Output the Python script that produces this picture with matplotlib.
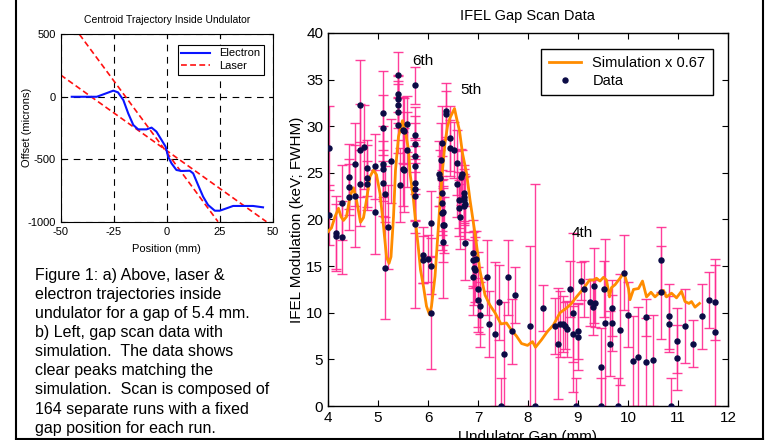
import matplotlib
matplotlib.use("Agg")
import matplotlib.pyplot as plt
from matplotlib.lines import Line2D

plt.rcParams['font.family'] = ['Liberation Sans', 'DejaVu Sans']
plt.rcParams['axes.unicode_minus'] = False

# ---------------- data: gap scan ----------------
gap_x = [4.02, 4.02, 4.15, 4.15, 4.27, 4.27, 4.41, 4.41, 4.41, 4.54, 4.54, 4.63, 4.63, 4.63,
         4.71, 4.78, 4.78, 4.78, 4.93, 4.93, 5.09, 5.09, 5.09, 5.09, 5.09, 5.14, 5.14, 5.19,
         5.26, 5.39, 5.39, 5.39, 5.39, 5.39, 5.39, 5.44, 5.49, 5.49, 5.52, 5.52, 5.57, 5.57,
         5.73, 5.73, 5.73, 5.73, 5.73, 5.73, 5.73, 5.73, 5.73, 5.89, 5.89, 6.00, 6.05, 6.05,
         6.05, 6.27, 6.25, 6.22, 6.24, 6.27, 6.27, 6.27, 6.29, 6.29, 6.30, 6.31, 6.35, 6.36,
         6.44, 6.44, 6.51, 6.57, 6.57, 6.61, 6.62, 6.63, 6.66, 6.68, 6.72, 6.72, 6.72, 6.73,
         6.72, 6.74, 6.89, 6.90, 6.91, 6.89, 6.93, 6.99, 7.00, 6.95, 7.04, 7.04, 7.17, 7.21,
         7.33, 7.42, 7.46, 7.51, 7.59, 7.67, 7.73, 8.03, 8.14, 8.29, 8.54, 8.59, 8.64, 8.70,
         8.74, 8.78, 8.83, 8.89, 8.89, 8.99, 8.99, 8.96, 9.05, 9.11, 9.23, 9.31, 9.30, 9.33,
         9.46, 9.46, 9.51, 9.54, 9.63, 9.67, 9.67, 9.79, 9.83, 9.92, 9.99, 10.09, 10.19, 10.35,
         10.35, 10.49, 10.66, 10.66, 10.81, 10.81, 10.86, 10.97, 10.97, 11.13, 11.29, 11.47,
         11.61, 11.74, 11.74]
gap_y = [27.7, 20.5, 18.5, 18.2, 21.8, 18.1, 24.6, 23.5, 22.4, 25.9, 22.5, 32.3, 27.4, 23.8,
         27.8, 25.5, 24.5, 23.8, 25.7, 20.8, 31.4, 29.8, 26.0, 25.4, 23.9, 22.7, 14.8, 19.2,
         26.3, 35.5, 33.5, 32.9, 32.3, 31.5, 30.1, 23.7, 29.6, 25.4, 29.5, 25.3, 30.2, 27.5,
         34.4, 29.1, 28.1, 26.8, 25.7, 23.9, 23.3, 22.5, 19.5, 16.2, 15.7, 15.8, 19.6, 15.0,
         10.0, 28.2, 26.4, 24.9, 24.5, 22.8, 21.8, 20.7, 19.4, 17.6, 20.8, 19.4, 31.6, 31.3,
         28.7, 27.7, 27.5, 26.1, 23.8, 22.1, 21.2, 20.3, 24.6, 24.9, 22.8, 22.4, 22.1, 21.7,
         21.4, 17.5, 16.4, 15.7, 14.8, 13.8, 14.6, 12.5, 11.4, 15.8, 10.7, 9.8, 13.8, 8.8,
         7.7, 11.1, 0.0, 5.6, 13.8, 8.0, 11.9, 8.6, 0.0, 10.5, 8.6, 6.7, 8.8, 8.8,
         8.6, 8.3, 12.5, 10.0, 7.7, 8.0, 7.4, 0.0, 13.4, 12.5, 11.1, 12.9, 10.6, 11.0,
         4.2, 0.0, 12.5, 8.9, 6.7, 10.5, 8.9, 0.0, 8.2, 14.3, 9.8, 4.8, 5.3, 4.7,
         9.5, 4.9, 15.7, 12.2, 9.6, 8.8, 0.0, 7.0, 5.2, 8.6, 6.7, 9.6,
         11.4, 11.1, 7.9]
gap_err = [4.5, 3.2, 4.0, 3.5, 4.0, 3.9, 3.5, 3.0, 3.5, 4.5, 5.5, 4.8, 5.0, 4.5,
           4.5, 3.0, 3.5, 2.5, 3.5, 4.5, 4.5, 3.5, 4.0, 3.0, 3.5, 3.0, 5.5, 4.5,
           4.5, 2.5, 2.0, 2.5, 2.5, 3.0, 3.0, 4.0, 3.5, 4.0, 3.5, 4.5, 3.0, 4.0,
           2.0, 3.0, 3.0, 3.5, 3.0, 4.0, 3.5, 4.0, 9.0, 3.0, 2.5, 2.5, 3.5, 3.0,
           6.0, 4.0, 4.0, 3.5, 3.0, 4.0, 3.5, 4.0, 4.0, 6.0, 3.5, 3.0, 3.0, 2.5,
           3.5, 3.0, 3.0, 3.5, 3.5, 3.0, 3.0, 3.5, 3.0, 2.5, 3.0, 3.0, 2.5, 3.0,
           3.5, 4.0, 3.5, 3.0, 4.0, 4.0, 3.5, 4.0, 3.5, 3.0, 3.0, 3.5, 4.0, 3.5,
           7.7, 4.0, 3.0, 5.6, 4.0, 3.5, 3.0, 8.6, 23.8, 2.5, 3.0, 6.0, 3.5, 3.0,
           2.5, 3.0, 3.0, 8.5, 3.0, 3.0, 3.5, 3.0, 2.0, 3.0, 2.5, 4.0, 3.0, 2.5,
           4.2, 3.0, 3.0, 9.0, 3.5, 3.0, 3.0, 3.0, 6.0, 4.0, 3.5, 4.8, 5.3, 4.7,
           2.0, 4.9, 3.5, 5.0, 3.5, 3.0, 3.0, 3.5, 3.5, 4.0, 2.5, 3.5,
           3.0, 4.0, 7.9]

sim_x = [4.00, 4.07, 4.14, 4.21, 4.26, 4.31, 4.37, 4.44, 4.51, 4.57, 4.65, 4.71, 4.77, 4.84,
         4.91, 4.97, 5.04, 5.11, 5.17, 5.22, 5.26, 5.31, 5.35, 5.41, 5.49, 5.54, 5.61, 5.64,
         5.71, 5.76, 5.81, 5.85, 5.91, 5.97, 6.03, 6.07, 6.14, 6.19, 6.24, 6.29, 6.34, 6.39,
         6.44, 6.53, 6.57, 6.63, 6.69, 6.77, 6.84, 6.94, 7.04, 7.14, 7.24, 7.34, 7.46, 7.57,
         7.66, 7.77, 7.87, 7.99, 8.09, 8.15, 8.27, 8.39, 8.51, 8.64, 8.77, 8.87, 8.97, 9.11,
         9.23, 9.31, 9.37, 9.44, 9.51, 9.57, 9.63, 9.67, 9.74, 9.84, 9.92, 10.01, 10.04, 10.11,
         10.21, 10.29, 10.37, 10.46, 10.54, 10.62, 10.71, 10.77, 10.87, 10.97, 11.07, 11.14,
         11.22, 11.27, 11.34, 11.43]
sim_y = [18.7, 19.1, 20.3, 21.2, 20.3, 19.9, 20.3, 22.5, 23.4, 22.1, 19.7, 20.2, 22.1, 24.6,
         25.3, 24.8, 22.8, 19.3, 16.0, 15.3, 16.0, 20.3, 25.3, 28.9, 30.6, 29.6, 27.5, 25.0,
         22.1, 19.3, 16.8, 14.6, 12.8, 10.7, 9.8, 10.7, 13.9, 17.8, 21.8, 25.3, 28.2, 30.0,
         30.9, 31.9, 30.9, 29.5, 27.1, 25.0, 22.1, 18.5, 14.5, 11.9, 10.8, 10.0, 8.8, 8.9,
         8.2, 7.5, 6.7, 6.5, 6.9, 6.3, 7.1, 8.0, 8.7, 10.0, 10.5, 11.0, 11.7, 12.6,
         13.5, 13.5, 13.7, 13.4, 13.8, 13.5, 11.7, 12.7, 13.0, 13.7, 14.3, 12.6, 11.4, 12.5,
         12.6, 13.4, 11.7, 12.2, 11.7, 12.1, 12.4, 11.7, 12.1, 11.6, 12.3, 11.2,
         11.0, 11.2, 10.6, 11.0]

harmonic_labels = ["6th", "5th", "4th"]
harmonic_x = [5.89, 6.85, 9.08]
harmonic_y = [37.0, 33.9, 18.5]

# ---------------- data: trajectory ----------------
elec_x = [-44.8, -38.0, -33.0, -29.0, -25.2, -23.0, -20.5, -18.2, -15.8, -13.5, -9.6, -7.2,
          -4.9, -2.5, -0.6, 0.6, 2.2, 4.5, 6.9, 10.8, 12.4, 14.7, 17.1, 19.4, 22.6, 24.9,
          28.1, 31.2, 34.3, 40.6, 45.3]
elec_y = [0, 0, 0, 25, 49, 35, -26, -133, -226, -261, -261, -247,
          -279, -346, -399, -479, -533, -586, -594, -592, -613, -706, -800, -866, -912, -912,
          -893, -874, -874, -874, -885]
laser1_x = [-41.2, 24.1]
laser1_y = [500, -1000]
laser2_x = [-50.0, 46.9]
laser2_y = [174, -1000]

caption = ("Figure 1: a) Above, laser &\nelectron trajectories inside\n"
           "undulator for a gap of 5.4 mm.\nb) Left, gap scan data with\n"
           "simulation.  The data shows\nclear peaks matching the\n"
           "simulation.  Scan is composed of\n164 separate runs with a fixed\n"
           "gap position for each run.")

W, H = 769, 440
fig = plt.figure(figsize=(W / 100, H / 100), dpi=100)

def fx(px):
    return px / W

def fy(py):
    return 1 - py / H

# ---------------- main axes ----------------
ax = fig.add_axes([fx(328), fy(406), (728 - 328) / W, (406 - 33) / H])
ax.errorbar(gap_x, gap_y, yerr=gap_err, fmt='none', ecolor='#ff2a90', elinewidth=1.0,
            capsize=3.5, capthick=1.0, alpha=0.9, zorder=2)
ax.plot(sim_x, sim_y, color='#ff8c00', lw=2.0, zorder=3, label='Simulation x 0.67')
ax.plot(gap_x, gap_y, 'o', color='#0b0b45', ms=3.6, zorder=4, label='Data')
for lab, hx, hy in zip(harmonic_labels, harmonic_x, harmonic_y):
    ax.text(hx, hy, lab, fontsize=11, ha='center', va='center')
ax.set_xlim(4, 12)
ax.set_ylim(0, 40)
ax.set_xticks(range(4, 13))
ax.set_yticks(range(0, 41, 5))
ax.tick_params(direction='in', top=True, right=True, labelsize=11, length=4, width=0.8)
for s in ax.spines.values():
    s.set_linewidth(1.0)
leg = ax.legend(loc='upper right', bbox_to_anchor=(0.98, 0.977), fontsize=10.5,
                frameon=True, fancybox=False, edgecolor='black', framealpha=1,
                borderpad=0.5, handlelength=2.2, labelspacing=0.25)
leg.get_frame().set_linewidth(1.0)

fig.text(fx(527), fy(16), "IFEL Gap Scan Data", fontsize=10.5, ha='center', va='center')
fig.text(fx(297), fy(220), "IFEL Modulation (keV; FWHM)", fontsize=11, rotation=90,
         ha='center', va='center')
fig.text(fx(527), fy(437), "Undulator Gap (mm)", fontsize=11, ha='center', va='center')

# ---------------- small trajectory axes ----------------
ax2 = fig.add_axes([fx(60.7), fy(221.7), (273 - 60.7) / W, (221.7 - 34.3) / H])
ax2.plot(elec_x, elec_y, color='#0a14ff', lw=1.5, label='Electron', zorder=3)
ax2.plot(laser1_x, laser1_y, color='#ff1010', lw=1.2, ls=(0, (3.5, 2)), label='Laser', zorder=2)
ax2.plot(laser2_x, laser2_y, color='#ff1010', lw=1.2, ls=(0, (3.5, 2)), zorder=2)
ax2.set_xlim(-50, 50)
ax2.set_ylim(-1000, 500)
ax2.set_xticks([-50, -25, 0, 25, 50])
ax2.set_yticks([-1000, -500, 0, 500])
ax2.grid(True, color='black', lw=0.8, ls=(0, (6, 5)))
ax2.tick_params(direction='in', top=True, right=True, labelsize=8, length=3, width=0.8)
ax2.set_title("Centroid Trajectory Inside Undulator", fontsize=7.5, pad=8)
fig.text(fx(27), fy(127), "Offset (microns)", fontsize=8, rotation=90, ha='center', va='center')
fig.text(fx(166), fy(249), "Position (mm)", fontsize=8, ha='center', va='center')
leg2 = ax2.legend(loc='upper right', bbox_to_anchor=(0.985, 0.975), fontsize=8,
                  frameon=True, fancybox=False, edgecolor='black', framealpha=1,
                  borderpad=0.35, handlelength=2.6, labelspacing=0.2)
leg2.get_frame().set_linewidth(0.8)

# ---------------- caption ----------------
fig.text(fx(35), fy(268), caption, fontsize=11.5, ha='left', va='top', linespacing=1.34)

# ---------------- page frame ----------------
fig.add_artist(Line2D([fx(16), fx(16)], [fy(0), fy(439)], color='black', lw=1.5))
fig.add_artist(Line2D([fx(16), fx(763)], [fy(439), fy(439)], color='black', lw=1.5))
fig.add_artist(Line2D([fx(763), fx(763)], [fy(0), fy(439)], color='black', lw=1.5))

fig.savefig("out.png", dpi=100)
